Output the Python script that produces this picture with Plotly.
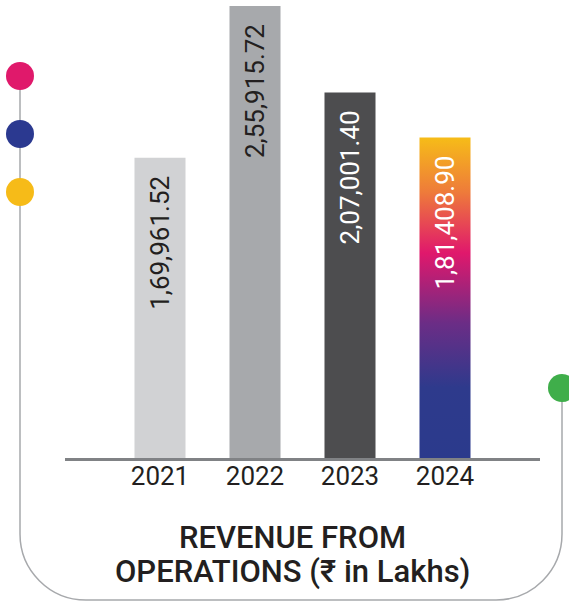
import plotly.graph_objects as go

years = ["2021", "2022", "2023", "2024"]
revenue = [169961.52, 255915.72, 207001.40, 181408.90]
bar_colors = ["#D1D2D4", "#A7A9AC", "#4D4D4F"]
label_colors = ["#231F20", "#231F20", "#FFFFFF", "#FFFFFF"]
title_lines = ["REVENUE FROM", "OPERATIONS (₹ in Lakhs)"]

W, H = 569, 605
PL, PR, PT, PB = 65, 540, 5, 458  # plot area in pixels
BAR_W = 0.537


def fmt_inr(v):
    whole, dec = f"{v:.2f}".split(".")
    head, tail = whole[:-3], whole[-3:]
    groups = []
    while len(head) > 2:
        groups.insert(0, head[-2:])
        head = head[:-2]
    if head:
        groups.insert(0, head)
    return ",".join(groups + [tail]) + "." + dec


def px(x):
    return (x - PL) / (PR - PL)


def py(y):
    return (PB - y) / (PB - PT)


xs = list(range(len(years)))

fig = go.Figure()

# first three bars, plain colours
fig.add_trace(
    go.Bar(
        x=xs[:3],
        y=revenue[:3],
        width=BAR_W,
        marker=dict(color=bar_colors, line=dict(width=0)),
        showlegend=False,
    )
)

# 2024 bar with vertical gradient
x4, v4 = xs[3], revenue[3]
fig.add_trace(
    go.Scatter(
        x=[x4 - BAR_W / 2, x4 + BAR_W / 2, x4 + BAR_W / 2, x4 - BAR_W / 2, x4 - BAR_W / 2],
        y=[0, 0, v4, v4, 0],
        mode="lines",
        line=dict(width=0),
        fill="toself",
        fillgradient=dict(
            type="vertical",
            colorscale=[
                [0.0, "#2B3A8C"],
                [0.22, "#2E3A8C"],
                [0.42, "#6B2D86"],
                [0.64, "#E0186C"],
                [0.83, "#EE7B3A"],
                [1.0, "#F6BC18"],
            ],
        ),
        showlegend=False,
        hoverinfo="skip",
    )
)

# value labels inside the bars
for i, v in enumerate(revenue):
    fig.add_annotation(
        x=xs[i],
        y=v,
        text=fmt_inr(v),
        textangle=-90,
        showarrow=False,
        yanchor="top",
        yshift=-16,
        font=dict(family="Roboto", size=26, color=label_colors[i]),
    )

# title, two tight lines
for j, line in enumerate(title_lines):
    fig.add_annotation(
        x=px(292),
        y=py(537 + 34 * j),
        xref="paper",
        yref="paper",
        text=line,
        showarrow=False,
        xanchor="center",
        yanchor="middle",
        borderpad=0,
        font=dict(family="Roboto", size=31, color="#231F20", weight=500),
    )

# rounded frame
r, k = 66, 0.552
lx, rx, by, ly_top, ry_top = 20, 562, 600, 76, 388
path = (
    f"M {px(lx)},{py(ly_top)} L {px(lx)},{py(by - r)} "
    f"C {px(lx)},{py(by - r + k * r)} {px(lx + r - k * r)},{py(by)} {px(lx + r)},{py(by)} "
    f"L {px(rx - r)},{py(by)} "
    f"C {px(rx - r + k * r)},{py(by)} {px(rx)},{py(by - r + k * r)} {px(rx)},{py(by - r)} "
    f"L {px(rx)},{py(ry_top)}"
)
shapes = [
    dict(
        type="path",
        path=path,
        xref="paper",
        yref="paper",
        line=dict(color="#A7A9AC", width=1.5),
        layer="below",
    )
]

dots = [(20, 76, "#E0196B"), (20, 134, "#2B3990"), (20, 192, "#F6BB18"), (562, 388, "#3FAE4A")]
rad = 14
for cx, cy, c in dots:
    shapes.append(
        dict(
            type="circle",
            xref="paper",
            yref="paper",
            x0=px(cx - rad),
            x1=px(cx + rad),
            y0=py(cy + rad),
            y1=py(cy - rad),
            fillcolor=c,
            line=dict(width=0),
            layer="above",
        )
    )

fig.update_layout(
    width=W,
    height=H,
    margin=dict(l=PL, r=W - PR, t=PT, b=H - PB),
    paper_bgcolor="white",
    plot_bgcolor="white",
    shapes=shapes,
    xaxis=dict(
        range=[-1, 4],
        tickvals=xs,
        ticktext=years,
        showgrid=False,
        zeroline=False,
        showline=True,
        linecolor="#808285",
        linewidth=3,
        ticks="",
        ticklabelstandoff=-7,
        tickfont=dict(family="Roboto", size=26, color="#231F20"),
        fixedrange=True,
    ),
    yaxis=dict(
        range=[0, 256500],
        visible=False,
        fixedrange=True,
    ),
    showlegend=False,
)

fig.write_html(
    "out.html",
    config={"displayModeBar": False},
    post_script="document.body.style.margin='0px';",
)
